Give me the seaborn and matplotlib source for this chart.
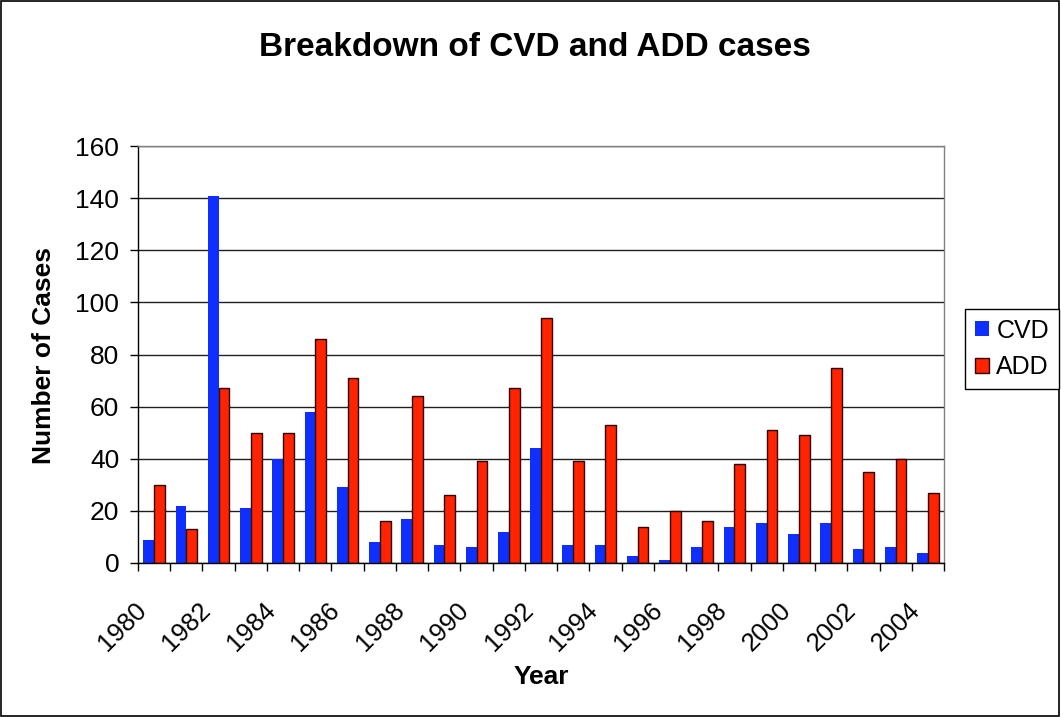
import matplotlib
matplotlib.use("Agg")
import matplotlib.pyplot as plt
import matplotlib.patches as mpatches
import matplotlib.transforms as mtransforms
import seaborn as sns
import pandas as pd

# data
years = ["1980", "1981", "1982", "1983", "1984", "1985", "1986", "1987", "1988",
         "1989", "1990", "1991", "1992", "1993", "1994", "1995", "1996", "1997",
         "1998", "1999", "2000", "2001", "2002", "2003", "2004"]
cvd = [9, 22, 141, 21, 40, 58, 29, 8, 17, 7, 6, 12, 44, 7, 7, 2.5, 1, 6, 14,
       15.5, 11, 15.5, 5.5, 6, 4]
add = [30, 13, 67, 50, 50, 86, 71, 16, 64, 26, 39, 67, 94, 39, 53, 14, 20, 16,
       38, 51, 49, 75, 35, 40, 27]
series_names = ["CVD", "ADD"]
colors = {"CVD": "#0F2FFF", "ADD": "#FF2300"}

df = pd.DataFrame({
    "Year": years * 2,
    "Cases": cvd + add,
    "Series": [series_names[0]] * len(years) + [series_names[1]] * len(years),
})

sns.set_theme(style="white")
plt.rcParams['font.family'] = ['Liberation Sans', 'DejaVu Sans']
plt.rcParams['text.color'] = 'black'
plt.rcParams['xtick.color'] = 'black'
plt.rcParams['ytick.color'] = 'black'
plt.rcParams['axes.labelcolor'] = 'black'

fig = plt.figure(figsize=(10.61, 7.17), dpi=100)
ax = fig.add_axes([138 / 1061, 1 - 563 / 717, 806 / 1061, 417 / 717])

sns.barplot(data=df, x="Year", y="Cases", hue="Series", order=years,
            hue_order=series_names, palette=colors, width=0.667,
            saturation=1, ax=ax, legend=False)

# red bars carry a dark outline, blue ones do not
for bar in ax.containers[0]:
    bar.set_edgecolor("none")
for bar in ax.containers[1]:
    bar.set_edgecolor("#300000")
    bar.set_linewidth(1.0)

ax.set_ylim(0, 160)
ax.set_xlim(-0.5, len(years) - 0.5)
ax.set_yticks(range(0, 161, 20))
ax.yaxis.grid(True, color="#202020", linewidth=1.0)
ax.set_axisbelow(True)

ax.set_xticks(range(0, len(years), 2))
ax.set_xticklabels(years[::2], rotation=45, ha="right", va="top",
                   rotation_mode="anchor", fontsize=18.5)
ax.set_xticks([i - 0.5 for i in range(len(years) + 1)], minor=True)
ax.tick_params(axis="x", which="major", length=0, pad=25)
ax.tick_params(axis="x", which="minor", length=5.5, width=1, color="black",
               direction="out", bottom=True)
ax.tick_params(axis="y", length=5.5, width=1, color="black", direction="out",
               left=True, labelsize=19, pad=8)

# Excel puts the rotated year labels a bit left of the category centre
shift = mtransforms.ScaledTranslation(-20 / 100, 0, fig.dpi_scale_trans)
for tick in ax.xaxis.get_major_ticks():
    tick.label1.set_transform(tick.label1.get_transform() + shift)

for side in ["left", "bottom"]:
    ax.spines[side].set_color("black")
    ax.spines[side].set_linewidth(1.0)
for side in ["top", "right"]:
    ax.spines[side].set_color("#808080")
    ax.spines[side].set_linewidth(1.0)

ax.set_xlabel("")
ax.set_ylabel("")
fig.text(541 / 1061, 1 - 677 / 717, "Year", ha="center", va="center",
         fontsize=19, fontweight="bold")
fig.text(44 / 1061, 1 - 355 / 717, "Number of Cases", ha="center", va="center",
         rotation=90, fontsize=19, fontweight="bold")
fig.text(535 / 1061, 1 - 47 / 717, "Breakdown of CVD and ADD cases",
         ha="center", va="center", fontsize=24, fontweight="bold")

handles = [
    mpatches.Patch(facecolor=colors["CVD"], edgecolor="none", label="CVD"),
    mpatches.Patch(facecolor=colors["ADD"], edgecolor="#300000", label="ADD"),
]
leg = fig.legend(handles=handles, loc="center left",
                 bbox_to_anchor=(965 / 1061, 1 - 349 / 717),
                 fontsize=18, frameon=True, fancybox=False, framealpha=1,
                 edgecolor="black", handlelength=0.55, handleheight=0.55,
                 handletextpad=0.3, labelspacing=0.5, borderpad=0.4,
                 borderaxespad=0)
leg.get_frame().set_linewidth(1.0)

# outer chart border
fig.patches.append(mpatches.Rectangle((0.001, 0.001), 0.997, 0.997,
                                      transform=fig.transFigure, fill=False,
                                      edgecolor="black", linewidth=1.2))

fig.savefig("out.png", dpi=100)
